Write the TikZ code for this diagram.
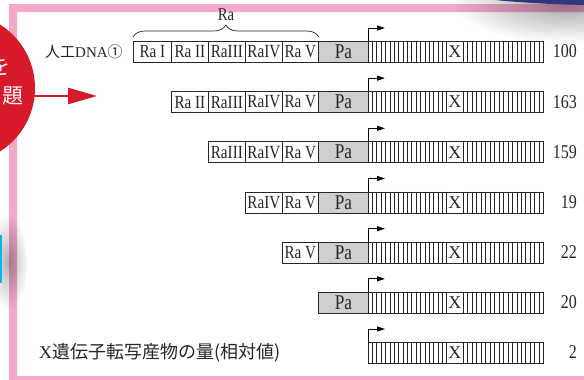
\documentclass[tikz,border=0pt]{standalone}
\usepackage{fontspec}
\setmainfont{Liberation Serif}
\newfontfamily\cjkfont{Noto Sans CJK JP}
\newfontfamily\narrowserif[FakeStretch=0.82]{Liberation Serif}
\usetikzlibrary{decorations.pathreplacing,fadings,calc,arrows.meta}

\definecolor{framepink}{HTML}{F4A9CA}
\definecolor{inkgray}{HTML}{262626}
\definecolor{pagray}{HTML}{CFCFCF}
\definecolor{tabred}{HTML}{D71A2A}
\definecolor{tabnavy}{HTML}{2F3878}
\definecolor{tabcyan}{HTML}{12B5E8}

\tikzfading[name=softedge, inner color=transparent!0, outer color=transparent!100]

\begin{document}
\begin{tikzpicture}[x=1pt,y=-1pt,
  seg/.style={draw=inkgray, line width=0.75pt, minimum height=21pt, inner sep=0pt,
    anchor=north west, text=inkgray, font=\narrowserif\fontsize{18.5}{18.5}\selectfont},
  rabox/.style={seg, fill=white},
  pabox/.style={seg, fill=pagray, font=\narrowserif\fontsize{21}{21}\selectfont},
  genebox/.style={seg, fill=white},
  xbox/.style={seg, fill=white, font=\fontsize{18}{18}\selectfont},
  stripe/.style={draw=inkgray, line width=0.65pt},
  promoter/.style={draw=black, line width=0.8pt, -{Triangle[length=8pt,width=5pt]}},
  numlabel/.style={anchor=east, inner sep=0pt, text=inkgray, font=\narrowserif\fontsize{19.5}{19.5}\selectfont},
  sidelabel/.style={anchor=west, inner sep=0pt, text=inkgray},
  tabtext/.style={text=white, inner sep=0pt, font=\cjkfont\fontsize{21}{21}\selectfont}
]
\useasboundingbox (0,0) rectangle (584,380);
\clip (0,0) rectangle (584,380);

% page frame
\fill[white] (0,0) rectangle (584,380);
\fill[framepink, even odd rule] (9,4) rectangle (640,420) (17,12) rectangle (630,376);

% shadows cast by the tabs
\fill[black, opacity=0.35, path fading=softedge] (565,4) ellipse (115 and 38);
\fill[black, opacity=0.30, path fading=softedge] (8,262) ellipse (20 and 48);

% tabs at the edges
\fill[tabnavy] (600,-60) ellipse (273 and 65);
\fill[tabcyan] (-10,235) rectangle (2,283);
\fill[tabred] (-40,88) circle (75);
\node[tabtext] (tabwo) at (0,67) {を};
\node[tabtext] (tabdai) at (13,96) {題};
\coordinate (arrowstart) at (30,96);
\coordinate (arrowtip) at (97,96);
\draw[tabred, line width=2.5pt, -{Triangle[length=29pt,width=16pt]}] (arrowstart) -- (arrowtip);

% construct rows
\foreach \row/\first/\val in {1/1/100, 2/2/163, 3/3/159, 4/4/19, 5/5/22, 6/6/20, 7/7/2} {
  \pgfmathsetmacro\rowtop{41+(\row-1)*50.17}
  \pgfmathsetmacro\rowmid{\rowtop+10.5}
  \foreach \j/\lab in {1/{Ra I},2/{Ra II},3/{RaIII},4/{RaIV},5/{Ra V}} {
    \ifnum\j<\first\else
      \pgfmathsetmacro\xa{{133,171,208,245,282,318}[\j-1]}
      \pgfmathsetmacro\xb{{133,171,208,245,282,318}[\j]}
      \pgfmathsetmacro\w{\xb-\xa}
      \node[rabox, minimum width=\w pt] (ra\row\j) at (\xa,\rowtop) {\lab};
    \fi
  }
  \ifnum\row<7
    \node[pabox, minimum width=50pt] (pa\row) at (318,\rowtop) {Pa};
  \fi
  \node[genebox, minimum width=78pt] (gl\row) at (368,\rowtop) {};
  \node[xbox, minimum width=17pt] (x\row) at (446,\rowtop) {X};
  \node[genebox, minimum width=80pt] (gr\row) at (463,\rowtop) {};
  \foreach \k in {1,...,17}
    \draw[stripe] ($(gl\row.north west)!\k/18!(gl\row.north east)$) -- ($(gl\row.south west)!\k/18!(gl\row.south east)$);
  \foreach \k in {1,...,17}
    \draw[stripe] ($(gr\row.north west)!\k/18!(gr\row.north east)$) -- ($(gr\row.south west)!\k/18!(gr\row.south east)$);
  \draw[promoter] (gl\row.north west) -- ++(0,-13) -- ++(17,0);
  \node[numlabel] (n\row) at (577,\rowmid) {\val};
}

% brace over the Ra region
\draw[inkgray, line width=0.7pt, decorate, decoration={brace, amplitude=12pt}]
  ($(ra11.north west)+(0,-4)$) -- ($(ra15.north east)+(0,-4)$);
\node[text=inkgray, inner sep=0pt, font=\narrowserif\fontsize{18}{18}\selectfont] (ratitle) at (226,15) {Ra};

% labels on the left
\node[sidelabel, font=\fontsize{15}{15}\selectfont] (dnalabel) at (45,51.5) {{\cjkfont 人工}DNA{\cjkfont ①}};
\node[sidelabel, font=\fontsize{18}{18}\selectfont] (amountlabel) at (39,352.5) {X{\cjkfont 遺伝子転写産物の量(相対値)}};
\end{tikzpicture}
\end{document}
